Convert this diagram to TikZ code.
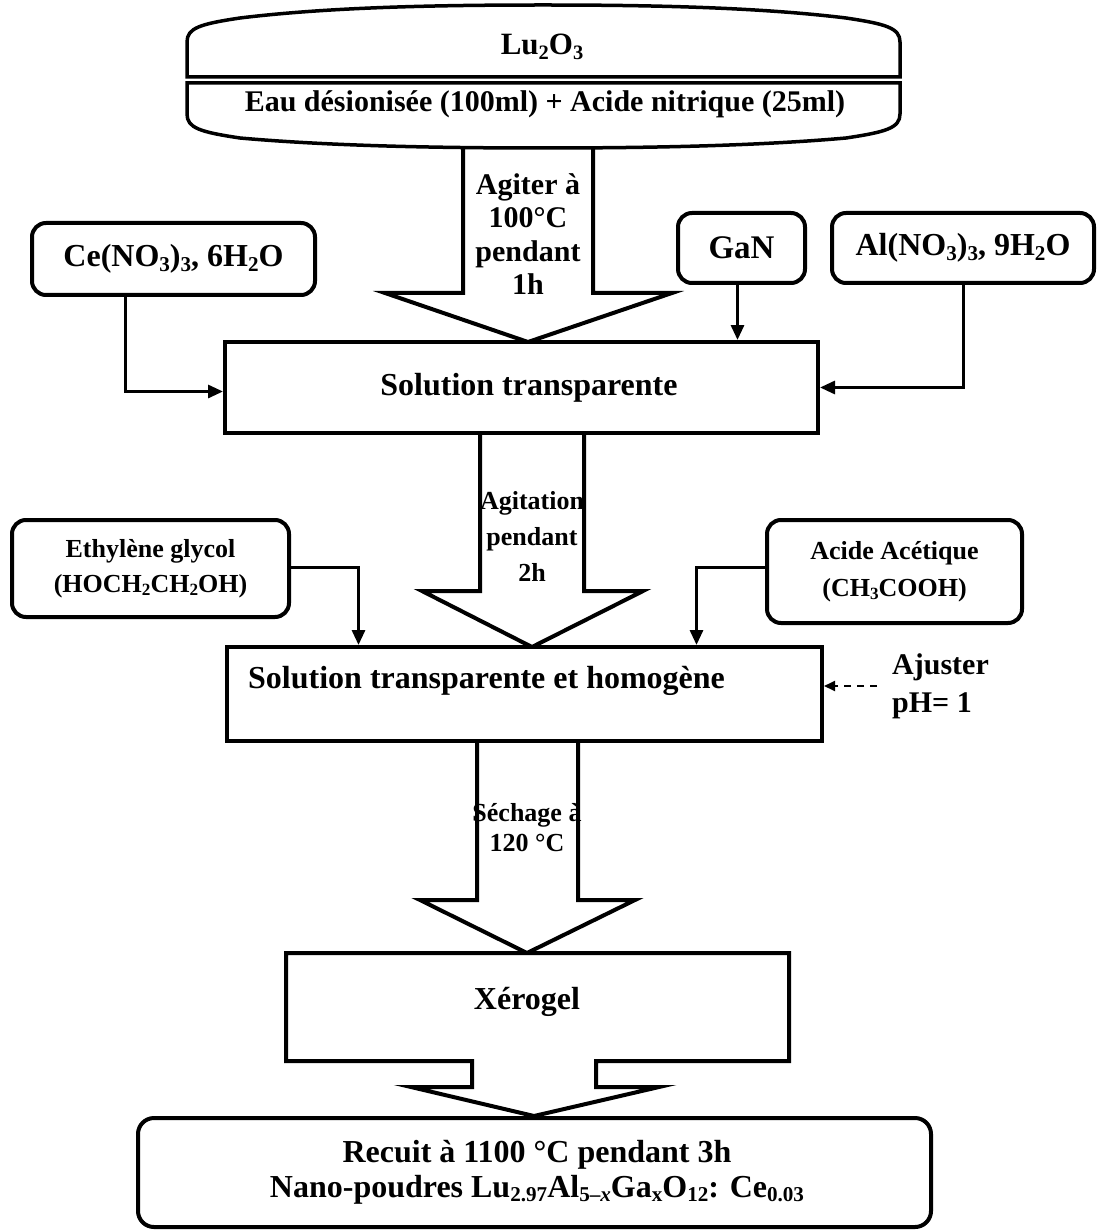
\documentclass[tikz,border=0pt]{standalone}
\usepackage{fontspec}
\setmainfont{Liberation Serif}
\usetikzlibrary{arrows.meta}

\newcommand\fsz[2]{\fontsize{#1}{#2}\selectfont}
% chemical index: small digits set slightly below the baseline
\newcommand\idx[1]{\raisebox{-0.14em}{\scalebox{0.66}{#1}}}

\begin{document}
\begin{tikzpicture}[x=1pt,y=-1pt,
  box/.style={draw, line width=4pt, fill=white, inner sep=0pt, align=center},
  rbox/.style={box, rounded corners=14pt},
  bigarrow/.style={draw, line width=4pt, line join=miter, fill=white},
  link/.style={line width=3pt, -{Triangle[length=15pt,width=13pt]}},
  dlink/.style={line width=2pt, dash pattern=on 7pt off 6pt, -{Triangle[length=11pt,width=10pt]}},
  txt/.style={inner sep=0pt, align=center, font=\bfseries\fsz{32}{36}},
]
\useasboundingbox (0,0) rectangle (1097,1230);

% ---- hollow process arrows (drawn first, boxes cover their ends)
\draw[bigarrow] (463,135) -- (463,293) -- (385,293) -- (528,342) -- (672,293) -- (593,293) -- (593,135);
\draw[bigarrow] (480,433) -- (480,591) -- (422,591) -- (532,647) -- (643,591) -- (584,591) -- (584,433);
\draw[bigarrow] (477,741) -- (477,900) -- (420,900) -- (527,953) -- (635,900) -- (578,900) -- (578,741);

% ---- starting solution: two stacked rounded halves
\draw[line width=3.5pt, fill=white]
  (187,77) -- (187,42) .. controls (187,28) and (200,24) .. (240,18)
  .. controls (330,7) and (440,5) .. (543,5)
  .. controls (646,5) and (756,7) .. (846,18)
  .. controls (886,24) and (900,28) .. (900,42) -- (900,77) -- cycle;
\draw[line width=3.5pt, fill=white]
  (187,83) -- (900,83) -- (900,114) .. controls (900,128) and (886,132) .. (846,138)
  .. controls (756,146) and (646,148) .. (543,148)
  .. controls (440,148) and (330,146) .. (240,138)
  .. controls (200,132) and (187,128) .. (187,114) -- cycle;
\node[txt, font=\bfseries\fsz{31}{34}] (lu) at (542,47) {Lu\idx{2}O\idx{3}};
\node[txt, font=\bfseries\fsz{30}{34}] (eau) at (545,104) {Eau désionisée (100ml) + Acide nitrique (25ml)};

% ---- reagent boxes
\node[rbox, font=\bfseries\fsz{32}{36}, minimum width=283pt, minimum height=72pt] (ce) at (173.5,259) {Ce(NO\idx{3})\idx{3}, 6H\idx{2}O};
\node[rbox, font=\bfseries\fsz{33}{36}, minimum width=127pt, minimum height=70pt] (gan) at (741.5,248) {GaN};
\node[rbox, font=\bfseries\fsz{32}{36}, minimum width=262pt, minimum height=70pt] (al) at (963,248) {Al(NO\idx{3})\idx{3}, 9H\idx{2}O};
\node[rbox, font=\bfseries\fsz{26}{35}, minimum width=277pt, minimum height=97pt] (eth) at (150.5,568.5) {Ethylène glycol\\(HOCH\idx{2}CH\idx{2}OH)};
\node[rbox, font=\bfseries\fsz{26}{37}, minimum width=255pt, minimum height=103pt] (ac) at (894.5,571.5) {Acide Acétique\\(CH\idx{3}COOH)};

% ---- intermediate products
\node[box, minimum width=593pt, minimum height=91pt] (sol) at (521.5,387.5) {};
\node[txt] (soltxt) at (529,388) {Solution transparente};
\node[box, minimum width=595pt, minimum height=94pt] (homog) at (524.5,694) {};
\node[txt, anchor=west] (homogtxt) at (248,681) {Solution transparente et homogène};

% ---- xerogel box merged with its outlet arrow
\draw[bigarrow] (286,953) -- (789,953) -- (789,1061) -- (596,1061) -- (596,1087) -- (659,1087)
  -- (534,1116) -- (411,1087) -- (472,1087) -- (472,1061) -- (286,1061) -- cycle;
\node[txt] (xero) at (527,1002) {Xérogel};

% ---- final product
\node[rbox, rounded corners=16pt, minimum width=793pt, minimum height=109pt] (rec) at (534.5,1172.5) {};
\node[txt, font=\bfseries\fsz{32}{35}] (rectxt) at (537,1172) {Recuit à 1100 °C pendant 3h\\Nano-poudres Lu\idx{2.97}Al\idx{5\textendash\textit{x}}Ga\idx{x}O\idx{12}: Ce\idx{0.03}};

% ---- labels inside the hollow arrows
\node[txt, font=\bfseries\fsz{30}{33.5}] (t1) at (528,234) {Agiter à\\100°C\\pendant\\1h};
\node[txt, font=\bfseries\fsz{26}{36}] (t2) at (532,536) {Agitation\\pendant\\2h};
\node[txt, font=\bfseries\fsz{26}{30}] (t3) at (527,828) {Séchage à\\120 °C};

% ---- pH adjustment
\node[txt, anchor=west, align=left, font=\bfseries\fsz{30}{38}] (aj) at (892,686) {Ajuster\\pH= 1};

% ---- connectors
\draw[link] ([xshift=-48pt]ce.south) |- ([yshift=-4pt]sol.west);
\draw[link] ([xshift=-4pt]gan.south) -- ([xshift=-4pt]gan.south |- sol.north);
\draw[link] (al.south) |- (sol.east);
\draw[link] ([yshift=1pt]eth.east) -| ([xshift=-166pt]homog.north);
\draw[link] ([yshift=4pt]ac.west) -| ([xshift=172pt]homog.north);
\draw[dlink] ([xshift=-15pt]aj.west) -- (aj.west -| homog.east);
\end{tikzpicture}
\end{document}
